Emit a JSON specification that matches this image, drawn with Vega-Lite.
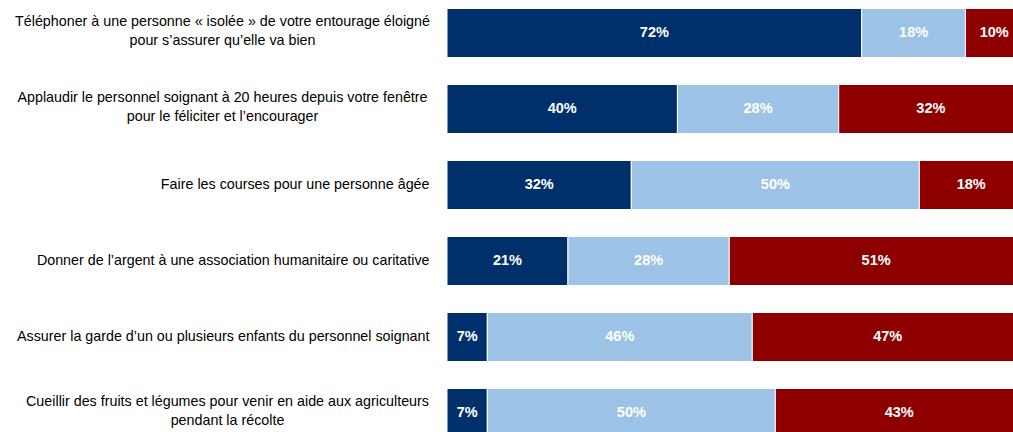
{
  "$schema": "https://vega.github.io/schema/vega-lite/v6.json",
  "width": 566,
  "height": 432,
  "autosize": {"type": "none"},
  "padding": {"left": 447, "top": 0, "right": 0, "bottom": 0},
  "background": "white",
  "config": {"view": {"stroke": null}},
  "data": {
    "values": [
      {"item": "Téléphoner à une personne « isolée » de votre entourage éloigné|pour s’assurer qu’elle va bien", "modalite": "1", "value": 0.72},
      {"item": "Téléphoner à une personne « isolée » de votre entourage éloigné|pour s’assurer qu’elle va bien", "modalite": "2", "value": 0.18},
      {"item": "Téléphoner à une personne « isolée » de votre entourage éloigné|pour s’assurer qu’elle va bien", "modalite": "3", "value": 0.10},
      {"item": "Applaudir le personnel soignant à 20 heures depuis votre fenêtre|pour le féliciter et l’encourager", "modalite": "1", "value": 0.40},
      {"item": "Applaudir le personnel soignant à 20 heures depuis votre fenêtre|pour le féliciter et l’encourager", "modalite": "2", "value": 0.28},
      {"item": "Applaudir le personnel soignant à 20 heures depuis votre fenêtre|pour le féliciter et l’encourager", "modalite": "3", "value": 0.32},
      {"item": "Faire les courses pour une personne âgée", "modalite": "1", "value": 0.32},
      {"item": "Faire les courses pour une personne âgée", "modalite": "2", "value": 0.50},
      {"item": "Faire les courses pour une personne âgée", "modalite": "3", "value": 0.18},
      {"item": "Donner de l’argent à une association humanitaire ou caritative", "modalite": "1", "value": 0.21},
      {"item": "Donner de l’argent à une association humanitaire ou caritative", "modalite": "2", "value": 0.28},
      {"item": "Donner de l’argent à une association humanitaire ou caritative", "modalite": "3", "value": 0.51},
      {"item": "Assurer la garde d’un ou plusieurs enfants du personnel soignant", "modalite": "1", "value": 0.07},
      {"item": "Assurer la garde d’un ou plusieurs enfants du personnel soignant", "modalite": "2", "value": 0.46},
      {"item": "Assurer la garde d’un ou plusieurs enfants du personnel soignant", "modalite": "3", "value": 0.47},
      {"item": "Cueillir des fruits et légumes pour venir en aide aux agriculteurs|pendant la récolte", "modalite": "1", "value": 0.07},
      {"item": "Cueillir des fruits et légumes pour venir en aide aux agriculteurs|pendant la récolte", "modalite": "2", "value": 0.50},
      {"item": "Cueillir des fruits et légumes pour venir en aide aux agriculteurs|pendant la récolte", "modalite": "3", "value": 0.43}
    ]
  },
  "transform": [
    {"stack": "value", "groupby": ["item"], "sort": [{"field": "modalite", "order": "ascending"}], "as": ["v0", "v1"]}
  ],
  "encoding": {
    "y": {
      "field": "item",
      "type": "nominal",
      "sort": null,
      "title": null,
      "scale": {"range": [-5, 451], "paddingInner": 0.355, "paddingOuter": 0.1775},
      "axis": {
        "domain": false,
        "ticks": false,
        "labelExpr": "split(datum.label, '|')",
        "labelFont": "Liberation Sans",
        "labelFontSize": 14.3,
        "labelColor": "#000000",
        "labelLineHeight": 19,
        "labelLimit": 0,
        "labelAlign": {"condition": {"test": "indexof(datum.value, '|') >= 0", "value": "center"}, "value": "right"},
        "labelPadding": {"condition": [
          {"test": "indexof(datum.value, 'Cueillir') == 0", "value": 220},
          {"test": "indexof(datum.value, '|') >= 0", "value": 225}
        ], "value": 18},
        "labelOffset": {"condition": {"test": "indexof(datum.value, '|') >= 0", "value": -11}, "value": 0}
      }
    }
  },
  "layer": [
    {
      "mark": {"type": "bar", "stroke": "white", "strokeWidth": 1, "clip": true},
      "encoding": {
        "x": {"field": "v0", "type": "quantitative", "scale": {"domain": [0, 0.9826], "nice": false, "zero": true}, "axis": null},
        "x2": {"field": "v1"},
        "color": {
          "field": "modalite",
          "type": "nominal",
          "scale": {"domain": ["1", "2", "3"], "range": ["#00306B", "#9CC3E6", "#8E0000"]},
          "legend": null
        }
      }
    },
    {
      "transform": [{"fold": ["v0", "v1"], "as": ["bord", "pos"]}],
      "mark": {"type": "text", "color": "white", "font": "Liberation Sans", "fontWeight": "bold", "fontSize": 14.5, "align": "center", "baseline": "middle"},
      "encoding": {
        "x": {"field": "pos", "type": "quantitative", "aggregate": "mean"},
        "detail": {"field": "modalite", "type": "nominal"},
        "text": {"field": "value", "type": "quantitative", "format": ".0%"}
      }
    }
  ]
}
